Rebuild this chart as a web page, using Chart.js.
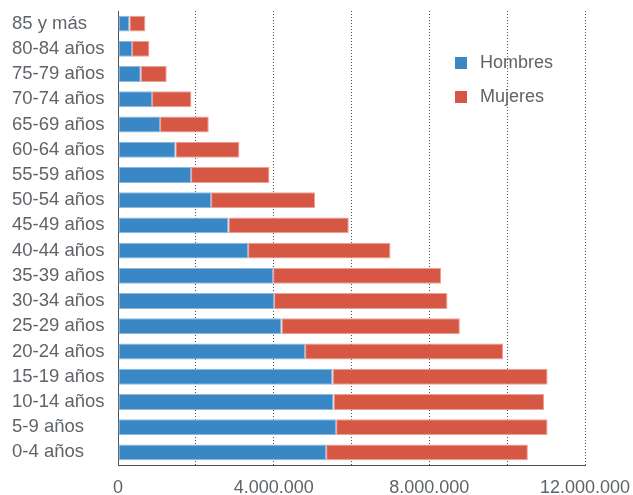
<!DOCTYPE html>
<html>
<head>
    <meta charset="utf-8">
    <title>Población por edad</title>
    <script src="https://cdn.jsdelivr.net/npm/chart.js"></script>
    <style>
        body {
            margin: 0;
            background: #ffffff;
        }

        #wrap {
            position: relative;
            width: 633px;
            height: 495px;
        }

        #legend {
            position: absolute;
            left: 455px;
            top: 50px;
            font-family: "Liberation Sans", Arial, sans-serif;
            font-size: 18px;
            color: #5f6469;
        }

        #legend div {
            height: 34px;
            line-height: 24px;
            white-space: nowrap;
        }

        #legend span.box {
            display: inline-block;
            width: 12px;
            height: 12px;
            margin-right: 13px;
            vertical-align: -1px;
        }
    </style>
</head>
<body>
    <div id="wrap">
        <canvas id="myChart" width="633" height="495"></canvas>
        <div id="legend"></div>
    </div>

    <script>
        // grupos de edad, de arriba a abajo
        var categories = ['85 y más', '80-84 años', '75-79 años', '70-74 años', '65-69 años', '60-64 años',
            '55-59 años', '50-54 años', '45-49 años', '40-44 años', '35-39 años', '30-34 años',
            '25-29 años', '20-24 años', '15-19 años', '10-14 años', '5-9 años', '0-4 años'];

        var hombres = [293000, 360000, 584000, 874000, 1080000, 1475000, 1877000, 2391000, 2838000,
            3342000, 3985000, 4010000, 4200000, 4807000, 5511000, 5537000, 5604000, 5347000];

        var mujeres = [411000, 447000, 668000, 1013000, 1252000, 1645000, 2015000, 2673000, 3092000,
            3660000, 4318000, 4457000, 4584000, 5090000, 5528000, 5414000, 5434000, 5185000];

        var seriesNames = ['Hombres', 'Mujeres'];
        var tickLabels = [0, 4000000, 8000000, 12000000];

        var textColor = '#5f6469';
        var gridColor = '#4d5155';
        var labelFont = { family: '"Liberation Sans", Arial, sans-serif', size: 18.5 };

        function formatNumber(n) {
            return String(n).replace(/\B(?=(\d{3})+(?!\d))/g, '.');
        }

        var ctx = document.getElementById('myChart').getContext('2d');
        var chart = new Chart(ctx, {
            type: 'bar',
            data: {
                labels: categories,
                datasets: [{
                    label: seriesNames[0],
                    data: hombres,
                    backgroundColor: '#3a87c6',
                    borderColor: '#8db8de',
                    borderWidth: 1,
                    borderSkipped: false
                }, {
                    label: seriesNames[1],
                    data: mujeres,
                    backgroundColor: '#d65844',
                    borderColor: '#eba196',
                    borderWidth: 1,
                    borderSkipped: false
                }]
            },
            options: {
                indexAxis: 'y',
                responsive: false,
                animation: false,
                barPercentage: 0.63,
                categoryPercentage: 1,
                layout: {
                    padding: { left: 12, top: 11, right: 0, bottom: 0 }
                },
                plugins: {
                    legend: { display: false },
                    tooltip: { enabled: false }
                },
                scales: {
                    x: {
                        stacked: true,
                        min: 0,
                        max: 12000000,
                        afterFit: function (scale) {
                            scale.height = 30;
                            scale.paddingLeft = 0;
                            scale.paddingRight = 48;
                        },
                        ticks: {
                            stepSize: 2000000,
                            maxRotation: 0,
                            autoSkip: false,
                            padding: 12,
                            color: textColor,
                            font: { family: '"Liberation Sans", Arial, sans-serif', size: 18 },
                            callback: function (value) {
                                return tickLabels.includes(value) ? formatNumber(value) : '';
                            }
                        },
                        grid: {
                            color: gridColor,
                            lineWidth: 1,
                            drawTicks: false,
                            borderDash: [1, 2]
                        },
                        border: {
                            display: true,
                            color: gridColor,
                            dash: [1, 2]
                        }
                    },
                    y: {
                        stacked: true,
                        afterFit: function (scale) {
                            scale.width = 106;
                            scale.paddingTop = 0;
                            scale.paddingBottom = 0;
                        },
                        ticks: {
                            autoSkip: false,
                            crossAlign: 'far',
                            color: textColor,
                            font: labelFont
                        },
                        grid: {
                            display: false,
                            drawTicks: false
                        },
                        border: {
                            display: true,
                            color: gridColor,
                            dash: [1, 2]
                        }
                    }
                }
            }
        });

        // leyenda dentro del área del gráfico
        var legend = document.getElementById('legend');
        chart.data.datasets.forEach(function (ds) {
            var row = document.createElement('div');
            var box = document.createElement('span');
            box.className = 'box';
            box.style.background = ds.backgroundColor;
            row.appendChild(box);
            row.appendChild(document.createTextNode(ds.label));
            legend.appendChild(row);
        });
    </script>
</body>
</html>
